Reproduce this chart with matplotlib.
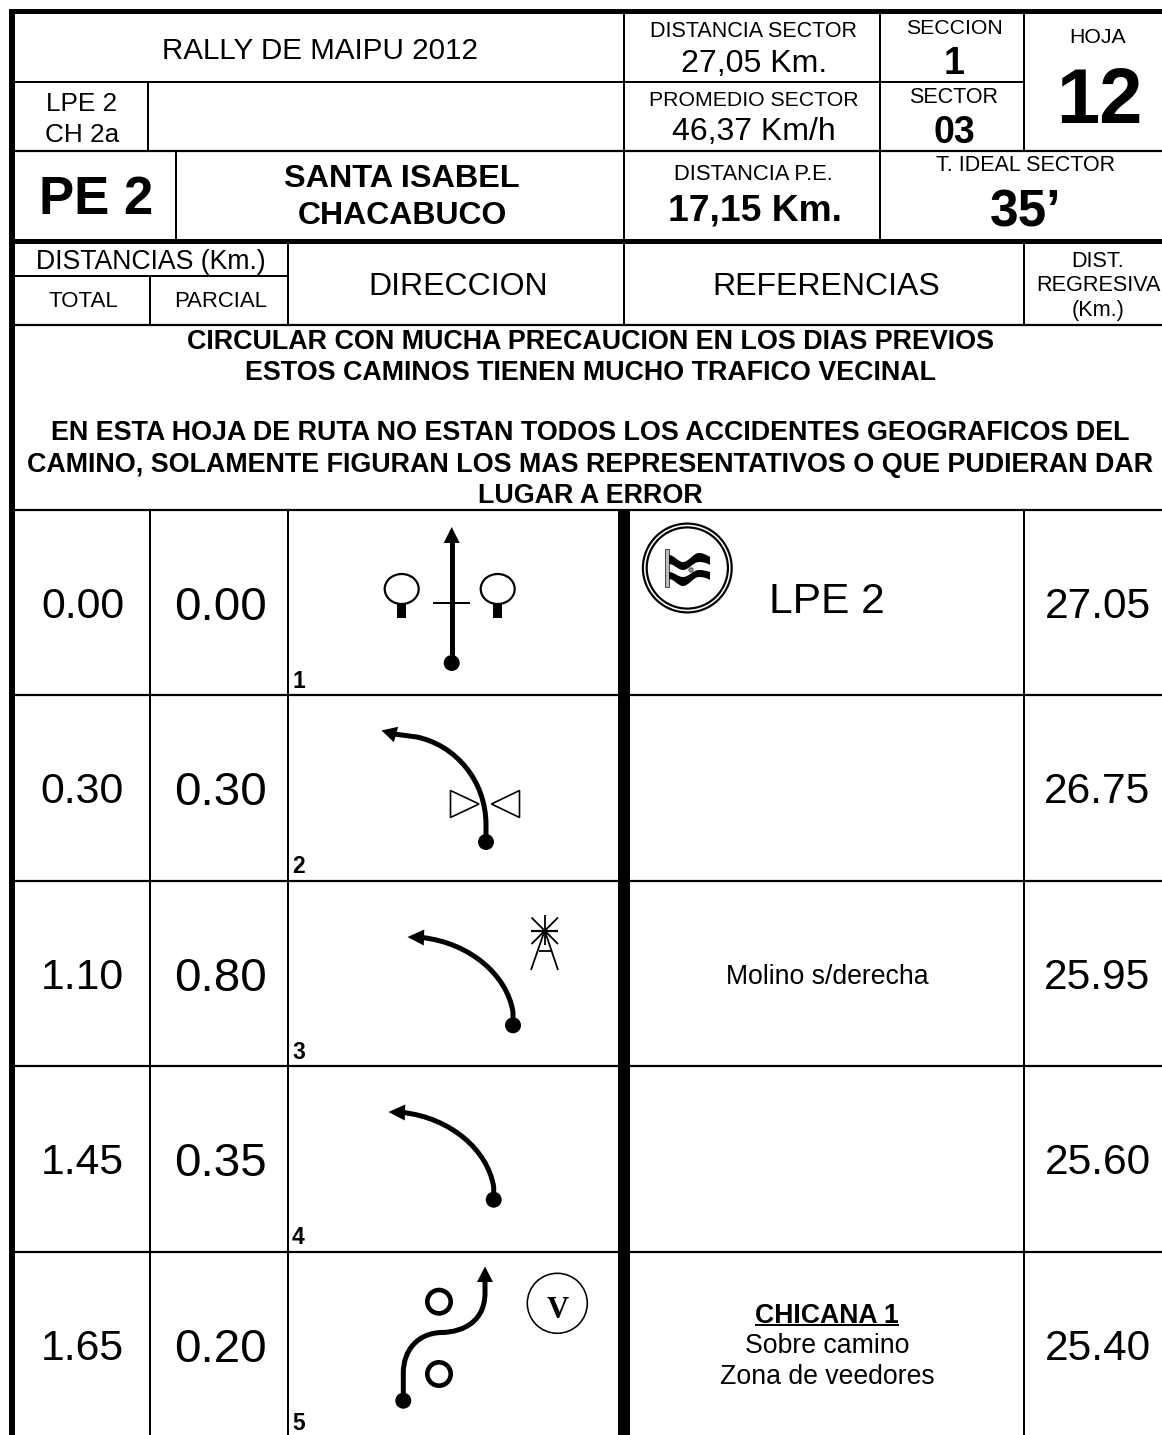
import numpy as np
import matplotlib
matplotlib.use('Agg')
import matplotlib.pyplot as plt
from matplotlib.patches import Circle, Ellipse, PathPatch, Polygon, Rectangle
from matplotlib.path import Path

plt.rcParams['font.family'] = ['Liberation Sans', 'DejaVu Sans']

# datos de la hoja de ruta
totales = ['0.00', '0.30', '1.10', '1.45', '1.65']
parciales = ['0.00', '0.30', '0.80', '0.35', '0.20']
regresiva = ['27.05', '26.75', '25.95', '25.60', '25.40']
numeros = ['1', '2', '3', '4', '5']
avisos = ['CIRCULAR CON MUCHA PRECAUCION EN LOS DIAS PREVIOS',
          'ESTOS CAMINOS TIENEN MUCHO TRAFICO VECINAL',
          '',
          'EN ESTA HOJA DE RUTA NO ESTAN TODOS LOS ACCIDENTES GEOGRAFICOS DEL',
          'CAMINO, SOLAMENTE FIGURAN LOS MAS REPRESENTATIVOS O QUE PUDIERAN DAR',
          'LUGAR A ERROR']

fig = plt.figure(figsize=(11.62, 14.35), dpi=100)
ax = fig.add_axes([0, 0, 1, 1])
ax.set_xlim(0, 1162)
ax.set_ylim(1435, 0)
ax.axis('off')


def linea(x0, y0, x1, y1, px=2.0):
    ax.plot([x0, x1], [y0, y1], color='black', lw=px * 0.72, solid_capstyle='butt')


def txt(x, y, s, size, bold=False, ha='center', **kw):
    # y es el centro de las mayusculas
    base = y - 0.7 + 0.358 * size * 100 / 72
    return ax.text(x, base, s, fontsize=size, ha=ha, va='baseline',
                   fontweight='bold' if bold else 'normal', color='black', **kw)


def flecha(verts, codes, tip, base, dot):
    ax.add_patch(PathPatch(Path(verts, codes), fc='none', ec='black', lw=5 * 0.72, capstyle='butt'))
    tip = np.array(tip, float)
    base = np.array(base, float)
    d = (tip - base) / np.linalg.norm(tip - base)
    n = np.array([-d[1], d[0]])
    ax.add_patch(Polygon([tip, base + n * 8, base - n * 8], closed=True, fc='black', ec='none'))
    ax.add_patch(Circle(dot, 8, fc='black', ec='none'))


# marcos exteriores
ax.add_patch(Rectangle((9, 9), 1153, 5.4, fc='black', ec='none'))
ax.add_patch(Rectangle((9, 9), 5.6, 1426, fc='black', ec='none'))

# cabecera
linea(14, 82, 1024, 82)
linea(14, 151, 1162, 151, 2.2)
ax.add_patch(Rectangle((14, 238.5), 1148, 5, fc='black', ec='none'))
linea(14, 325, 1162, 325, 2.2)
linea(148, 82, 148, 151)
linea(176, 151, 176, 239)
linea(624, 14, 624, 325)
linea(880, 14, 880, 239)
linea(1024, 14, 1024, 151)
linea(1024, 243, 1024, 325)
linea(14, 275.5, 288, 275.5)
linea(150, 275.5, 150, 325)
linea(288, 243, 288, 325)

txt(320, 49, 'RALLY DE MAIPU 2012', 21.3)
txt(82, 102, 'LPE 2', 18.8)
txt(82, 133, 'CH 2a', 18.8)
txt(96.5, 195.5, 'PE 2', 38, True)
txt(402, 176, 'SANTA ISABEL', 23.3, True)
txt(402, 213, 'CHACABUCO', 23, True)
txt(754, 30, 'DISTANCIA SECTOR', 15.5)
txt(754, 61, '27,05 Km.', 23.1)
txt(954, 27, 'SECCION', 15.3)
txt(954, 61, '1', 27, True)
txt(954, 96, 'SECTOR', 15.5)
txt(954, 130, '03', 27, True)
txt(1098, 36, 'HOJA', 15.3)
txt(1099, 96, '12', 56, True)
txt(753.5, 99, 'PROMEDIO SECTOR', 15.3)
txt(753.5, 129, '46,37 Km/h', 23)
txt(753.5, 173, 'DISTANCIA P.E.', 15.8)
txt(754.5, 208, '17,15 Km.', 26.8, True)
txt(1026, 164, 'T. IDEAL SECTOR', 15.5)
txt(1026, 209, '35’', 37, True)
txt(151, 260, 'DISTANCIAS (Km.)', 19.2)
txt(83, 300, 'TOTAL', 16)
txt(220.5, 300, 'PARCIAL', 15.9)
txt(458, 284, 'DIRECCION', 23)
txt(826, 284, 'REFERENCIAS', 23)
txt(1098, 260, 'DIST.', 15.6)
txt(1098, 284, 'REGRESIVA', 15.6)
txt(1098, 309, '(Km.)', 15.6)

# avisos
for y, s in zip([340, 371, 401, 431, 463, 494], avisos):
    txt(590.5, y, s, 19.35, True)

# filas
y_lineas = [510, 695, 881, 1066, 1252]
for y in y_lineas:
    linea(14, y, 1162, y, 2.2)
linea(150, 510, 150, 1435)
linea(288, 510, 288, 1435)
linea(1024, 510, 1024, 1435)
ax.add_patch(Rectangle((618, 510), 12, 925, fc='black', ec='none'))

for i, y in enumerate(y_lineas):
    c = y + 93.7
    txt(82.5, c, totales[i], 30.8)
    txt(220, c, parciales[i], 34.2)
    txt(1097.5, c, regresiva[i], 30.6)
    txt(292, y + 170.7, numeros[i], 16.5, True, ha='left')

# referencias
txt(827, 598, 'LPE 2', 30.6)
txt(827, 975, 'Molino s/derecha', 19.2)
txt(827, 1314.5, 'CHICANA 1', 19.2, True)
linea(755, 1325, 899, 1325, 2)
txt(827, 1344.5, 'Sobre camino', 19.2)
txt(827, 1375.5, 'Zona de veedores', 19.2)

# simbolo de largada
ax.add_patch(Circle((687.3, 568), 44.4, fc='none', ec='black', lw=2.2 * 0.72))
ax.add_patch(Circle((687.3, 568), 40.6, fc='none', ec='black', lw=2.2 * 0.72))
ax.add_patch(Rectangle((664.5, 549), 4, 38, fc='#bbbbbb', ec='#444444', lw=0.7))
C = Path.CURVE4
M, L = Path.MOVETO, Path.LINETO
banda1 = [(669, 555), (674, 555), (678, 562), (683, 562), (689, 562), (693, 553), (699, 553),
          (703, 553), (707, 555), (710, 557), (710, 565), (707, 563), (703, 562), (699, 562),
          (693, 562), (689, 570), (683, 570), (678, 570), (674, 564), (669, 564), (669, 555)]
banda2 = [(669, 572), (674, 572), (678, 577), (683, 577), (689, 577), (693, 570), (699, 570),
          (703, 570), (707, 571), (710, 572), (710, 580), (707, 578), (703, 577), (699, 577),
          (693, 577), (689, 586), (683, 586), (678, 586), (674, 579), (669, 579), (669, 572)]
codigos = [M, C, C, C, C, C, C, C, C, C, L, C, C, C, C, C, C, C, C, C, L]
for banda in [banda1, banda2]:
    ax.add_patch(PathPatch(Path(banda, codigos), fc='black', ec='none'))
ax.add_patch(Circle((691, 570), 2.2, fc='#999999', ec='#333333', lw=0.5))

# fila 1: recto, arboles y cruce
flecha([(451.7, 663), (451.7, 541)], [M, L], (451.7, 527), (451.7, 543), (451.7, 663))
linea(433, 602.5, 470, 602.5, 2)
for x in [401.7, 497.7]:
    ax.add_patch(Ellipse((x, 589), 34, 30, fc='none', ec='black', lw=2.2 * 0.72))
    ax.add_patch(Rectangle((x - 4.3, 604), 8.6, 14, fc='black', ec='none'))

# fila 2: curva y triangulos
flecha([(486, 842), (486, 825), (486, 780), (455, 745), (416.7, 737), (394, 734)],
       [M, L, C, C, C, L], (381.5, 730.5), (396, 734.5), (486, 842))
ax.add_patch(Polygon([(450.5, 790.5), (479, 804), (450.5, 817.5)], closed=True, fc='none', ec='black', lw=1.2))
ax.add_patch(Polygon([(519.5, 790.5), (491.5, 804), (519.5, 817.5)], closed=True, fc='none', ec='black', lw=1.2))

# fila 3: curva y molino
flecha([(513, 1025), (513, 1012), (507, 975), (470, 943), (422, 937.5)],
       [M, L, C, C, C], (407.5, 937), (424, 937.5), (513, 1025.3))
mx, my = 544.7, 930.5
linea(mx, 915, mx, 945, 1.8)
linea(531, my, 558, my, 2.2)
linea(531.5, 917.5, 558, 944, 1.8)
linea(558, 917.5, 531.5, 944, 1.8)
linea(mx, my, 531, 970, 1.8)
linea(mx, my, 558, 970, 1.8)
linea(538.5, 950.5, 551, 950.5, 1.8)

# fila 4: curva
flecha([(493.7, 1199.7), (493.7, 1187), (487.7, 1150), (450.7, 1118), (403, 1112.5)],
       [M, L, C, C, C], (388.5, 1112), (405, 1112.5), (493.7, 1199.7))

# fila 5: chicana
flecha([(403.3, 1400.7), (403.3, 1373), (403.3, 1350), (418, 1333), (441.7, 1332.5),
        (465, 1332), (485, 1320), (485, 1293), (485, 1280)],
       [M, L, C, C, C, C, C, C, L], (485, 1266.5), (485, 1282), (403.3, 1400.7))
ax.add_patch(Circle((439, 1301.7), 11.7, fc='none', ec='black', lw=4.6 * 0.72))
ax.add_patch(Circle((439, 1374), 11.7, fc='none', ec='black', lw=4.6 * 0.72))
ax.add_patch(Circle((557.3, 1303.3), 30, fc='none', ec='black', lw=1.6 * 0.72))
ax.text(557.3, 1318, 'V', fontsize=22, fontweight='bold', family='Liberation Serif',
        ha='center', va='baseline', color='black')

fig.savefig('out.png', dpi=100, facecolor='white')
